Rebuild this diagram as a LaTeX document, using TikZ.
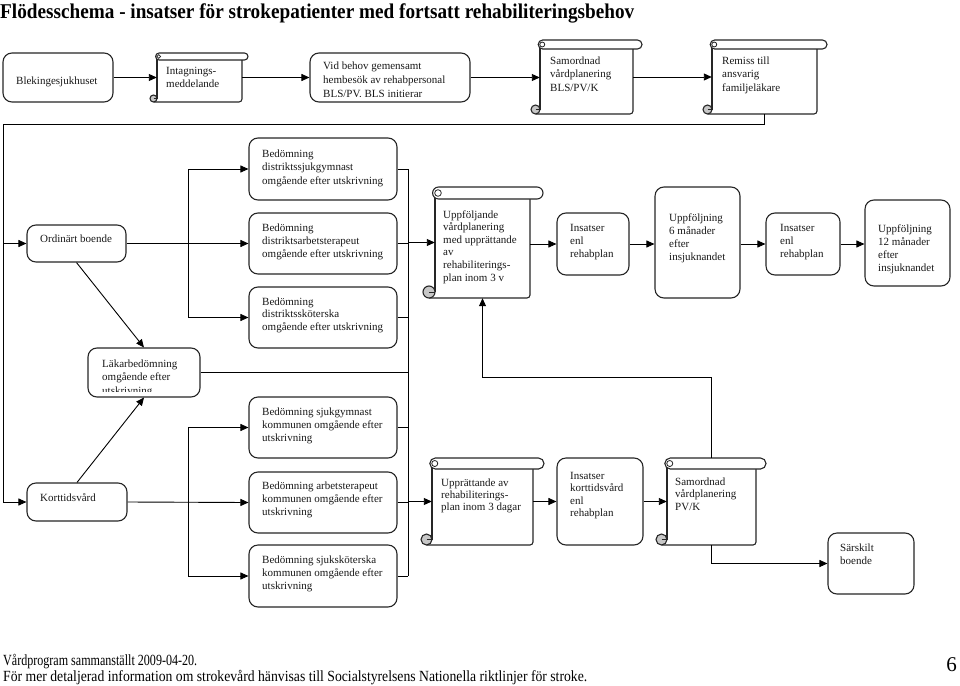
\documentclass[tikz,border=0pt]{standalone}
\usepackage{fontspec}
\usepackage{graphicx}
\setmainfont{Liberation Serif}
\usetikzlibrary{arrows.meta,fit}
\tikzset{
  shp/.style={draw=black!85, line width=1.1pt},
  rbox/.style={shp, rounded corners=9pt, fill=white, inner sep=0pt},
  bodynode/.style={inner sep=0pt, draw=none},
  txt/.style={anchor=base west, inner sep=0pt, align=left, font=\fontsize{11}{13}\selectfont, text=black!90},
  con/.style={draw=black, line width=0.9pt},
  arr/.style={con, -{Triangle[length=8pt,width=7pt]}},
}
\newcommand\rb[5]{\node[rbox, fit={(#2,#3) (#4,#5)}] (#1) {};}
\newcommand\scr[7]{%
  \node[bodynode, fit={(#2,#3) (#4,#5)}] (#1) {};
  \fill[white] (#2,#3) rectangle (#4,#5);
  \draw[shp] (#2,{#3+#7}) -- (#2,{#5-#7});
  \draw[shp, rounded corners=3pt] (#4,{#3+2*#7}) -- (#4,#5) -- ({#2-#7},#5);
  \draw[shp, fill=white, rounded corners=#7pt] ({#2-0.4*#7},#3) rectangle (#6,{#3+2*#7});
  \draw[shp, line width=0.8pt] ({#2+0.5*#7},{#3+#7}) circle[radius={0.55*#7pt}];
  \draw[shp, fill=black!22] ({#2-#7},{#5-#7}) circle[radius=#7pt];
  \draw[shp, line width=0.8pt] ({#2-#7},{#5-#7}) -- (#2,{#5-#7});
}
\begin{document}
\begin{tikzpicture}[x=1pt,y=-1pt]
\useasboundingbox (0,0) rectangle (960,685);

% title
\node[anchor=base west, inner sep=0pt, font=\bfseries\fontsize{21}{21}\selectfont] (title) at (0,19)
  {\resizebox{634pt}{\height}{Flödesschema - insatser för strokepatienter med fortsatt rehabiliteringsbehov}};

% ---------- top row (text nodes anchored at the baseline of their last line)
\rb{blek}{3}{53}{113}{102}
\node[txt] (blek-t) at (16,84) {Blekingesjukhuset};
\scr{intag}{157}{53}{242}{102}{248}{3.5}
\node[txt] (intag-t) at (166,87) {Intagnings-\\meddelande};
\rb{vid}{310}{53}{470}{102}
\begin{scope}
  \clip (310,53) rectangle (470,96);
  \node[txt, font=\fontsize{11}{14}\selectfont] (vid-t) at (323,97) {Vid behov gemensamt\\hembesök av rehabpersonal\\BLS/PV. BLS initierar};
\end{scope}
\scr{sambls}{540}{40}{633}{114}{642}{4.5}
\node[txt, font=\fontsize{11}{13.5}\selectfont] (sambls-t) at (550,91) {Samordnad\\vårdplanering\\BLS/PV/K};
\scr{remiss}{712}{40}{817}{114}{827}{4.5}
\node[txt, font=\fontsize{11}{13.5}\selectfont] (remiss-t) at (722,91) {Remiss till\\ansvarig\\familjeläkare};

% ---------- Ordinärt boende branch
\rb{ord}{27}{225}{126}{262}
\node[txt] (ord-t) at (40,242) {Ordinärt boende};
\rb{dsg}{249}{138}{397}{200}
\node[txt, font=\fontsize{11}{13.5}\selectfont] (dsg-t) at (262,184) {Bedömning\\distriktssjukgymnast\\omgående efter utskrivning};
\rb{dat}{249}{213}{397}{274}
\node[txt, font=\fontsize{11}{13}\selectfont] (dat-t) at (262,257) {Bedömning\\distriktsarbetsterapeut\\omgående efter utskrivning};
\rb{dsk}{249}{287}{397}{348}
\node[txt, font=\fontsize{11}{12.5}\selectfont] (dsk-t) at (262,330) {Bedömning\\distriktssköterska\\omgående efter utskrivning};
\scr{uppf}{435}{187}{530}{298}{543}{6}
\node[txt, font=\fontsize{11}{12.6}\selectfont] (uppf-t) at (443,281) {Uppföljande\\vårdplanering\\med upprättande\\av\\rehabiliterings-\\plan inom 3 v};
\rb{ins1}{557}{213}{629}{275}
\node[txt] (ins1-t) at (570,257) {Insatser\\enl\\rehabplan};
\rb{upp6}{655}{187}{740}{298}
\node[txt] (upp6-t) at (669,260) {Uppföljning\\6 månader\\efter\\insjuknandet};
\rb{ins2}{766}{213}{840}{275}
\node[txt] (ins2-t) at (780,257) {Insatser\\enl\\rehabplan};
\rb{upp12}{865}{200}{950}{286}
\node[txt] (upp12-t) at (878,271) {Uppföljning\\12 månader\\efter\\insjuknandet};

% ---------- Läkarbedömning
\rb{lak}{88}{348}{200}{397}
\begin{scope}
  \clip (88,348) rectangle (200,391);
  \node[txt, font=\fontsize{11}{13.5}\selectfont] (lak-t) at (102,394) {Läkarbedömning\\omgående efter\\utskrivning};
\end{scope}

% ---------- Korttidsvård branch
\rb{ksg}{249}{397}{397}{458}
\node[txt] (ksg-t) at (262,441) {Bedömning sjukgymnast\\kommunen omgående efter\\utskrivning};
\rb{kort}{27}{483}{127}{521}
\node[txt] (kort-t) at (40,501) {Korttidsvård};
\rb{kat}{249}{472}{397}{533}
\node[txt] (kat-t) at (262,515) {Bedömning arbetsterapeut\\kommunen omgående efter\\utskrivning};
\rb{ksk}{249}{545}{397}{607}
\node[txt] (ksk-t) at (262,589) {Bedömning sjuksköterska\\kommunen omgående efter\\utskrivning};
\scr{uppr}{432}{458}{533}{545}{544}{5.5}
\node[txt, font=\fontsize{11}{12}\selectfont] (uppr-t) at (441,510) {Upprättande av\\rehabiliterings-\\plan inom 3 dagar};
\rb{inskv}{557}{458}{643}{545}
\node[txt, font=\fontsize{11}{12.5}\selectfont] (inskv-t) at (570,516.5) {Insatser\\korttidsvård\\enl\\rehabplan};
\scr{sampv}{667}{458}{756}{545}{766}{5.5}
\node[txt, font=\fontsize{11}{12.5}\selectfont] (sampv-t) at (675,510) {Samordnad\\vårdplanering\\PV/K};
\rb{sarsk}{828}{533}{914}{594}
\node[txt] (sarsk-t) at (840,564) {Särskilt\\boende};

% ---------- connectors
\coordinate (fb) at (3,124);
\coordinate (lb) at (188,0);
\coordinate (rb) at (408,0);
\draw[arr] (blek.east) -- (intag.west);
\draw[arr] (intag.east) -- (vid.west);
\draw[arr] (vid.east) -- (vid.east -| sambls.west);
\draw[arr] (sambls.east) -- (remiss.west);
\draw[arr] (remiss.south) |- (fb) |- (kort.west);
\draw[arr] (fb |- ord.west) -- (ord.west);
\draw[arr] (ord.east) -- (dat.west);
\draw[con] (lb |- dsg.west) -- (lb |- dsk.west);
\draw[arr] (lb |- dsg.west) -- (dsg.west);
\draw[arr] (lb |- dsk.west) -- (dsk.west);
\draw[arr] (kort.east) -- (kat.west);
\draw[con] (lb |- ksg.west) -- (lb |- ksk.west);
\draw[arr] (lb |- ksg.west) -- (ksg.west);
\draw[arr] (lb |- ksk.west) -- (ksk.west);
\draw[con] (rb |- dsg.east) -- (rb |- ksk.east);
\foreach \n in {dsg,dat,dsk,lak,ksg,kat,ksk} {\draw[con] (\n.east) -- (rb |- \n.east);}
\draw[arr] (rb |- uppf.west) -- (uppf.west);
\draw[arr] (rb |- uppr.west) -- (uppr.west);
\draw[arr] (ord.south) -- (lak.north);
\draw[arr] (kort.north) -- (lak.south);
\draw[arr] (uppf.east |- ins1.west) -- (ins1.west);
\draw[arr] (ins1.east) -- (ins1.east -| upp6.west);
\draw[arr] (upp6.east |- ins2.west) -- (ins2.west);
\draw[arr] (ins2.east) -- (ins2.east -| upp12.west);
\draw[arr] (uppr.east |- inskv.west) -- (inskv.west);
\draw[arr] (inskv.east) -- (inskv.east -| sampv.west);
\draw[arr] (sampv.south) |- (sarsk.west);
\draw[arr] (sampv.north) -- ++(0,-80) -| (uppf.south);

% ---------- footer
\node[anchor=base west, inner sep=0pt, font=\fontsize{15.5}{15.5}\selectfont] (foot1) at (3,665)
  {\resizebox{194pt}{\height}{Vårdprogram sammanställt 2009-04-20.}};
\node[anchor=base west, inner sep=0pt, font=\fontsize{15.5}{15.5}\selectfont] (foot2) at (3,681)
  {\resizebox{584pt}{\height}{För mer detaljerad information om strokevård hänvisas till Socialstyrelsens Nationella riktlinjer för stroke.}};
\node[anchor=base east, inner sep=0pt, font=\fontsize{21}{21}\selectfont] (page) at (957,671) {6};
\end{tikzpicture}
\end{document}
